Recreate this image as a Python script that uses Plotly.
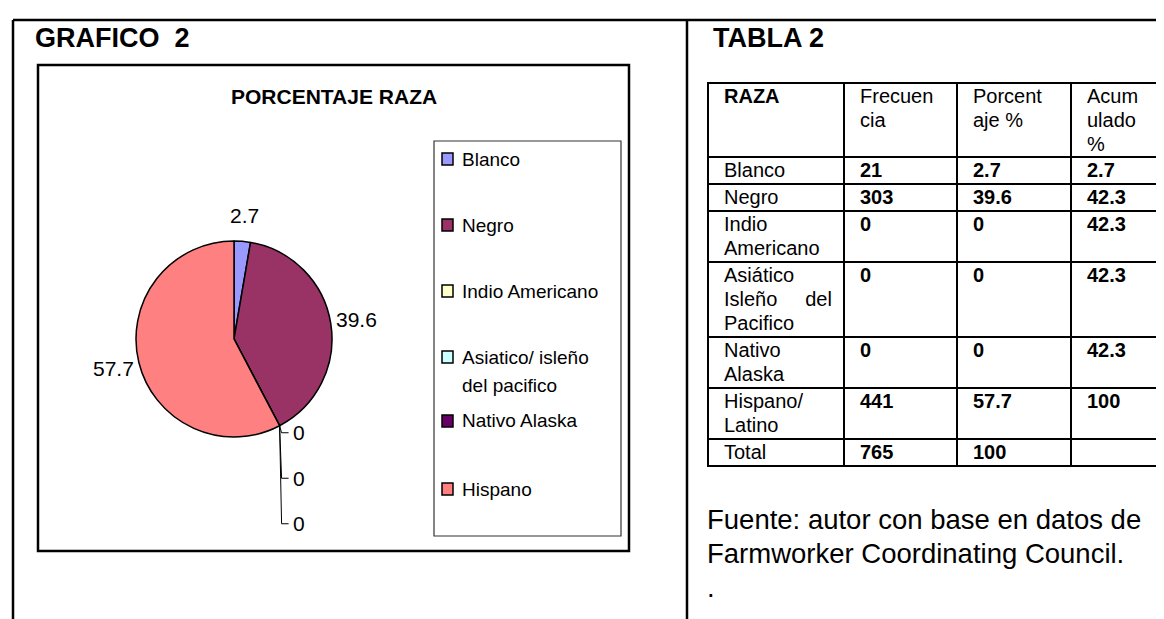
import math
import plotly.graph_objects as go

W, H = 1164, 619
FONT = "Arial, Liberation Sans, sans-serif"

# datos del grafico
razas_grafico = ["Blanco", "Negro", "Indio Americano", "Asiatico/ isleño<br>del pacifico",
                 "Nativo Alaska", "Hispano"]
porcentaje_grafico = [2.7, 39.6, 0, 0, 0, 57.7]
colores = ["#9999FF", "#993366", "#FFFFCC", "#CCFFFF", "#660066", "#FF8080"]

# datos de la tabla
encabezado = ["RAZA", "Frecuen<br>cia", "Porcent<br>aje %", "Acum<br>ulado<br>%"]
razas_tabla = ["Blanco", "Negro", "Indio<br>Americano",
               "Asiático<br>Isleño\u00a0\u00a0\u00a0\u00a0\u00a0del<br>Pacifico",
               "Nativo<br>Alaska", "Hispano/<br>Latino", "Total"]
frecuencia = ["21", "303", "0", "0", "0", "441", "765"]
porcentaje_tabla = ["2.7", "39.6", "0", "0", "0", "57.7", "100"]
acumulado = ["2.7", "42.3", "42.3", "42.3", "42.3", "100", ""]

fuente_lineas = ["Fuente: autor con base en datos de", "Farmworker Coordinating Council.", "."]


def px(x):
    return x / W


def py(y):
    return 1 - y / H


def texto(x, y, t, size, anchor="left", yanchor="middle"):
    return dict(xref="paper", yref="paper", x=px(x), y=py(y), xanchor=anchor, yanchor=yanchor,
                text=t, showarrow=False, font=dict(family=FONT, size=size, color="black"))


# posicion del pie (pixeles)
cx, cy, r = 226, 331, 98

fig = go.Figure()

fig.add_trace(go.Pie(labels=[l.replace("<br>", " ") for l in razas_grafico],
                     values=porcentaje_grafico,
                     marker=dict(colors=colores, line=dict(color="black", width=1.5)),
                     sort=False, direction="clockwise", rotation=0,
                     textinfo="none", showlegend=False,
                     domain=dict(x=[px(cx - r), px(cx + r)], y=[py(cy + r), py(cy - r)])))

shapes = []
annotations = []

# marco del documento
for x0, y0, x1, y1 in [(5, 12, 1164, 12), (5, 12, 5, 619), (679, 12, 679, 619)]:
    shapes.append(dict(type="line", xref="paper", yref="paper", x0=px(x0), x1=px(x1), y0=py(y0), y1=py(y1),
                       line=dict(color="black", width=2.5)))

# caja del grafico y de la leyenda
shapes.append(dict(type="rect", xref="paper", yref="paper", x0=px(30), x1=px(621), y0=py(543), y1=py(57),
                   line=dict(color="black", width=2.5)))
shapes.append(dict(type="rect", xref="paper", yref="paper", x0=px(426), x1=px(613), y0=py(528), y1=py(133),
                   line=dict(color="#333333", width=1.2)))

annotations.append(texto(25, 30, "<b>GRAFICO  2</b>", 27))
annotations.append(texto(703, 30, "<b>TABLA 2</b>", 27))
annotations.append(texto(326, 88, "<b>PORCENTAJE RAZA</b>", 21, anchor="center"))

# etiquetas del pie a partir de los porcentajes
acum = 0
ceros = 0
for v in porcentaje_grafico:
    inicio = acum / 100 * 360
    if v > 0:
        medio = math.radians(inicio + v / 100 * 180)
        lx = cx + (r + 26) * math.sin(medio)
        ly = cy - (r + 26) * math.cos(medio)
        annotations.append(texto(lx, ly, str(v), 21, anchor="center"))
    else:
        a = math.radians(inicio)
        ex = cx + r * math.sin(a)
        ey = cy - r * math.cos(a)
        ly = ey + 7 + ceros * 45.5
        shapes.append(dict(type="path", xref="paper", yref="paper",
                           path="M %f %f L %f %f L %f %f" % (px(ex), py(ey), px(ex + 2), py(ly),
                                                              px(ex + 9), py(ly)),
                           line=dict(color="black", width=1)))
        annotations.append(texto(ex + 11, ly, "0", 21))
        ceros += 1
    acum += v

# leyenda
leyenda_y = [151, 217, 283, 349, 413, 481]
for nombre, color, y in zip(razas_grafico, colores, leyenda_y):
    shapes.append(dict(type="rect", xref="paper", yref="paper", x0=px(434), x1=px(445),
                       y0=py(y + 6), y1=py(y - 6), fillcolor=color, line=dict(color="black", width=1.5)))
    for k, linea in enumerate(nombre.split("<br>")):
        annotations.append(texto(452, y + k * 28, linea, 19))

# tabla: celdas a partir de las columnas de datos
col_x = [700, 836, 949, 1063, 1155]
filas = [encabezado] + [list(f) for f in zip(razas_tabla, frecuencia, porcentaje_tabla, acumulado)]
top = 75
for i, fila in enumerate(filas):
    n = max(len(c.split("<br>")) for c in fila)
    alto = 74 if i == 0 else 24 * n + 3
    for j, celda in enumerate(fila):
        shapes.append(dict(type="rect", xref="paper", yref="paper", x0=px(col_x[j]), x1=px(col_x[j + 1]),
                           y0=py(top + alto), y1=py(top), line=dict(color="black", width=2)))
        negrita = (i == 0 and j == 0) or (i > 0 and j > 0)
        for k, linea in enumerate(celda.split("<br>")):
            if not linea:
                continue
            t = "<b>%s</b>" % linea if negrita else linea
            annotations.append(texto(col_x[j] + 14, top + 13 + 24 * k, t, 20))
    top += alto

# fuente
for k, linea in enumerate(fuente_lineas):
    annotations.append(texto(697, 511 + k * 34, linea, 27.5))

fig.update_layout(width=W, height=H, margin=dict(l=0, r=0, t=0, b=0),
                  paper_bgcolor="white", plot_bgcolor="white",
                  shapes=shapes, annotations=annotations)

fig.write_html("out.html")
